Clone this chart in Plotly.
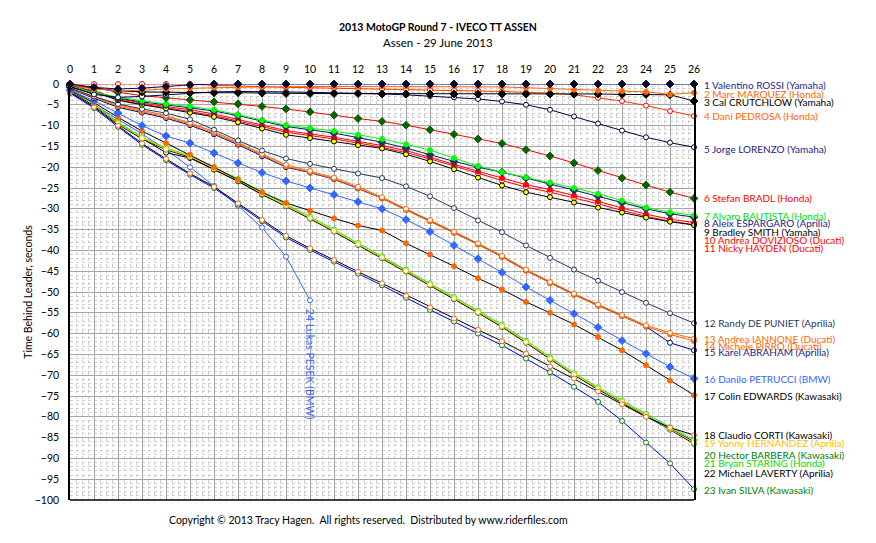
import plotly.graph_objects as go

laps = list(range(0, 27))

riders = [
    "1 Valentino ROSSI (Yamaha)", "2 Marc MARQUEZ (Honda)", "3 Cal CRUTCHLOW (Yamaha)",
    "4 Dani PEDROSA (Honda)", "5 Jorge LORENZO (Yamaha)", "6 Stefan BRADL (Honda)",
    "7 Alvaro BAUTISTA (Honda)", "8 Aleix ESPARGARO (Aprilia)", "9 Bradley SMITH (Yamaha)",
    "10 Andrea DOVIZIOSO (Ducati)", "11 Nicky HAYDEN (Ducati)", "12 Randy DE PUNIET (Aprilia)",
    "13 Andrea IANNONE (Ducati)", "14 Michele PIRRO (Ducati)", "15 Karel ABRAHAM (Aprilia)",
    "16 Danilo PETRUCCI (BMW)", "17 Colin EDWARDS (Kawasaki)", "18 Claudio CORTI (Kawasaki)",
    "19 Yonny HERNANDEZ (Aprilia)", "20 Hector BARBERA (Kawasaki)", "21 Bryan STARING (Honda)",
    "22 Michael LAVERTY (Aprilia)", "23 Ivan SILVA (Kawasaki)", "24 Lukas PESEK (BMW)",
]

rossi = [0, -0.8, -1.2, -1.0, -0.6, -0.2, 0, 0, 0, 0, 0, 0, 0, 0, 0, 0, 0, 0, 0, 0, 0, 0, 0, 0, 0, 0, 0]
marquez = [-0.3, -1.2, -1.6, -1.5, -1.2, -1.0, -0.9, -0.8, -0.7, -0.6, -0.6, -0.6, -0.6, -0.6, -0.6, -0.6, -0.6, -0.6, -0.7, -0.9, -1.1, -1.4, -1.6, -1.7, -1.9, -2.5, -2.1]
crutchlow = [-0.4, -1.0, -1.6, -1.9, -2.0, -2.1, -2.1, -2.1, -2.2, -2.3, -2.3, -2.3, -2.3, -2.4, -2.4, -2.4, -2.4, -2.4, -2.4, -2.4, -2.4, -2.4, -2.4, -2.5, -2.5, -2.6, -4.1]
pedrosa = [0, 0, 0, 0, 0, 0, -0.3, -0.5, -0.7, -0.8, -0.9, -1.0, -1.1, -1.2, -1.3, -1.4, -1.5, -1.6, -1.8, -2.0, -2.2, -2.6, -3.3, -4.1, -5.2, -6.5, -7.7]
lorenzo = [-0.6, -2.5, -3.2, -3.0, -2.6, -2.2, -1.9, -1.8, -1.8, -1.9, -2.0, -2.1, -2.2, -2.4, -2.6, -2.9, -3.2, -3.6, -4.2, -5.0, -6.2, -7.8, -9.5, -11.2, -12.8, -14.1, -15.2]
bradl = [-0.2, -0.8, -2.0, -2.8, -3.3, -3.8, -4.3, -4.8, -5.4, -6.0, -6.7, -7.5, -8.3, -9.0, -9.9, -11.0, -12.1, -13.2, -14.3, -15.8, -17.3, -19.0, -20.8, -22.6, -24.3, -26.0, -27.5]
bautista = [-0.5, -2.0, -3.2, -4.0, -4.8, -5.4, -6.2, -7.4, -8.7, -9.9, -10.6, -11.3, -12.2, -13.2, -14.5, -15.9, -17.8, -19.7, -21.2, -22.4, -23.7, -25.0, -26.4, -28.0, -29.7, -30.8, -31.6]
espargaro = [-0.8, -2.2, -3.4, -4.3, -5.0, -5.7, -6.5, -7.6, -8.9, -10.2, -11.0, -11.8, -12.9, -14.0, -15.4, -17.0, -18.6, -20.0, -21.2, -22.6, -24.0, -25.5, -27.0, -28.5, -30.0, -31.2, -32.0]
smith = [-0.6, -1.9, -3.9, -5.0, -5.9, -6.9, -7.9, -9.2, -10.7, -12.2, -13.0, -13.8, -14.7, -15.5, -16.9, -18.6, -20.5, -22.5, -24.4, -26.0, -27.2, -28.5, -29.7, -30.9, -32.1, -33.1, -33.9]
dovizioso = [-0.5, -1.6, -3.5, -4.6, -5.4, -6.2, -7.2, -8.5, -9.9, -11.2, -12.0, -12.8, -13.8, -14.8, -16.0, -17.6, -19.3, -21.0, -22.6, -24.2, -25.4, -26.8, -28.2, -29.8, -31.3, -32.5, -33.3]
hayden = [-0.6, -1.8, -3.8, -4.9, -5.7, -6.6, -7.6, -8.9, -10.3, -11.6, -12.4, -13.2, -14.2, -15.2, -16.5, -18.0, -19.7, -21.5, -23.2, -24.8, -26.0, -27.4, -28.8, -30.4, -31.8, -33.0, -33.8]
depuniet = [-1.0, -3.0, -4.8, -6.0, -7.0, -8.5, -11.0, -13.6, -16.0, -17.9, -19.2, -20.4, -21.5, -22.6, -24.6, -27.0, -29.8, -32.8, -35.6, -38.8, -41.8, -44.6, -47.3, -50.0, -52.6, -55.1, -57.5]
iannone = [-1.0, -3.0, -5.0, -6.3, -7.6, -9.3, -11.5, -14.0, -16.8, -19.4, -20.9, -22.5, -24.7, -27.2, -30.0, -32.7, -35.5, -38.3, -41.3, -44.6, -47.6, -50.4, -53.0, -55.5, -58.0, -59.8, -61.2]
pirro = [-1.1, -3.2, -5.3, -6.6, -7.9, -9.6, -11.8, -14.3, -17.1, -19.8, -21.2, -22.8, -25.0, -27.5, -30.3, -33.0, -35.8, -38.6, -41.6, -44.9, -47.9, -50.7, -53.3, -55.8, -58.3, -60.2, -61.8]
abraham = [-1.2, -3.4, -5.6, -6.9, -8.2, -9.9, -12.1, -14.6, -17.4, -20.0, -21.3, -22.9, -25.1, -27.5, -30.2, -32.9, -35.7, -38.5, -41.5, -44.8, -47.8, -50.6, -53.2, -55.7, -58.3, -62.2, -64.0]
petrucci = [-1.5, -4.0, -7.0, -10.0, -12.5, -14.2, -16.6, -19.0, -21.3, -23.3, -25.0, -26.6, -28.3, -30.0, -32.6, -35.5, -38.8, -42.0, -45.3, -48.8, -52.0, -55.2, -58.5, -61.7, -64.8, -68.0, -70.8]
edwards = [-1.5, -4.5, -8.0, -11.3, -14.2, -17.0, -20.0, -23.0, -26.0, -28.6, -30.5, -32.3, -34.0, -35.2, -38.3, -41.0, -43.8, -46.7, -49.4, -52.4, -55.0, -57.8, -60.8, -64.0, -67.6, -71.3, -74.8]
corti = [-2.0, -5.5, -10.0, -14.3, -18.0, -21.5, -24.7, -28.7, -32.7, -36.5, -39.5, -42.3, -45.1, -47.9, -50.9, -53.7, -56.4, -59.1, -61.8, -64.8, -67.9, -70.8, -73.9, -77.0, -80.0, -82.6, -84.4]
hernandez = [-1.5, -5.0, -9.5, -13.0, -15.6, -17.4, -20.3, -23.1, -26.3, -29.2, -32.2, -35.3, -38.5, -41.7, -44.9, -48.2, -51.5, -54.8, -58.2, -62.0, -66.0, -69.8, -73.2, -76.4, -79.6, -82.8, -86.2]
barbera = [-1.6, -5.2, -9.7, -13.2, -15.8, -17.6, -20.5, -23.3, -26.5, -29.4, -32.4, -35.5, -38.7, -41.9, -45.1, -48.4, -51.7, -55.0, -58.4, -62.2, -66.2, -70.0, -73.4, -76.6, -79.9, -83.1, -86.5]
staring = [-1.4, -4.8, -9.2, -12.8, -15.4, -17.2, -20.0, -22.8, -26.0, -28.9, -31.9, -35.0, -38.2, -41.4, -44.6, -47.9, -51.2, -54.5, -57.9, -61.7, -65.7, -69.5, -72.9, -76.1, -79.3, -82.5, -85.6]
laverty = [-1.5, -5.0, -9.4, -13.1, -16.5, -17.8, -20.6, -23.4, -26.6, -29.3, -32.3, -35.4, -38.6, -41.8, -45.0, -48.3, -51.6, -54.9, -58.3, -62.1, -66.1, -69.9, -73.3, -76.5, -79.7, -82.9, -86.0]
silva = [-2.2, -5.8, -10.3, -14.6, -18.3, -21.8, -25.0, -29.0, -33.0, -36.9, -39.9, -42.7, -45.6, -48.4, -51.4, -54.3, -57.1, -60.0, -62.8, -66.0, -69.3, -72.8, -76.4, -81.0, -86.2, -91.2, -97.4]
pesek = [-2.0, -5.0, -8.5, -12.0, -15.8, -20.0, -24.5, -29.3, -34.5, -41.5, -52.0]

series_values = [rossi, marquez, crutchlow, pedrosa, lorenzo, bradl, bautista, espargaro, smith,
                 dovizioso, hayden, depuniet, iannone, pirro, abraham, petrucci, edwards, corti,
                 hernandez, barbera, staring, laverty, silva, pesek]

# right-hand label positions (seconds)
label_y = [-0.3, -2.3, -4.3, -7.7, -15.6, -27.5, -31.7, -33.5, -35.6, -37.4, -39.4, -57.5,
           -61.2, -62.9, -64.4, -70.8, -75.0, -84.4, -86.2, -89.1, -91.2, -93.6, -97.5]

# style: (line colour, marker symbol, marker fill, marker outline, label colour)
styles = [
    ("#000080", "diamond", "#0A0A30", "#0A0A30", "#24249A"),
    ("#FF6600", "circle", "#FF6600", "#FF6600", "#FF6600"),
    ("#000000", "diamond", "#000000", "#000000", "#000000"),
    ("#FF3300", "circle", "#FFFFFF", "#FF0000", "#FF6600"),
    ("#000040", "circle", "#FFFFFF", "#000040", "#1C1C80"),
    ("#FF0000", "diamond", "#006400", "#006400", "#FF0000"),
    ("#00FF00", "circle", "#00FF00", "#00FF00", "#00E000"),
    ("#002060", "diamond", "#1F3864", "#1F3864", "#1C1C80"),
    ("#000000", "circle", "#FFFF00", "#000000", "#000000"),
    ("#FF0000", "circle", "#FF0000", "#FF0000", "#FF0000"),
    ("#FF0000", "circle", "#FFFFFF", "#FF0000", "#FF0000"),
    ("#1F3864", "circle", "#FFFFFF", "#1F3864", "#1F3864"),
    ("#FF6600", "circle", "#FFFFFF", "#FF6600", "#FF6600"),
    ("#FF6600", "circle", "#FF6600", "#FF6600", "#FF6600"),
    ("#000080", "circle", "#FFFFFF", "#000080", "#1C1C80"),
    ("#3366FF", "diamond", "#3366FF", "#3366FF", "#3366FF"),
    ("#000000", "circle", "#FF6600", "#FF6600", "#000000"),
    ("#000000", "circle", "#FFFFFF", "#FF6600", "#000000"),
    ("#FFC000", "circle", "#FFFFFF", "#FFC000", "#FFC000"),
    ("#000000", "circle", "#FFFFFF", "#008000", "#008000"),
    ("#00FF00", "circle", "#FFFFFF", "#00FF00", "#00E000"),
    ("#000000", "circle", "#FFFFFF", "#000000", "#000000"),
    ("#0000FF", "circle", "#FFFFFF", "#008000", "#008000"),
    ("#3366FF", "circle", "#FFFFFF", "#3366FF", "#3366FF"),
]

FONT = "Lato"

fig = go.Figure()
for i in reversed(range(len(riders))):
    vals = series_values[i]
    lc, sym, fill, oc, _ = styles[i]
    fig.add_trace(go.Scatter(
        x=laps[:len(vals)], y=vals, mode="lines+markers", name=riders[i],
        line=dict(color=lc, width=1),
        marker=dict(symbol=sym, size=6 if sym == "diamond" else 5, color=fill,
                    line=dict(color=oc, width=1)),
        cliponaxis=False, showlegend=False,
    ))

annotations = []
for i in range(len(label_y)):
    annotations.append(dict(
        x=26, y=label_y[i], xref="x", yref="y", text=riders[i], showarrow=False,
        xanchor="left", yanchor="middle", xshift=8,
        font=dict(family=FONT, size=10, color=styles[i][4]),
    ))
annotations.append(dict(
    x=len(pesek) - 1, y=pesek[-1], xref="x", yref="y", text=riders[23], showarrow=False,
    textangle=90, xanchor="center", yanchor="top", yshift=-6,
    font=dict(family=FONT, size=10.5, color="#3366FF"),
))
annotations.append(dict(
    x=0.5897, y=1.137, xref="paper", yref="paper", showarrow=False,
    text="<b>2013 MotoGP Round 7 - IVECO TT ASSEN</b>",
    font=dict(family=FONT, size=10.5, color="#000000"), xanchor="center", yanchor="middle",
))
annotations.append(dict(
    x=0.5897, y=1.0986, xref="paper", yref="paper", showarrow=False,
    text="Assen - 29 June 2013",
    font=dict(family=FONT, size=11.5, color="#000000"), xanchor="center", yanchor="middle",
))
annotations.append(dict(
    x=0.479, y=-0.048, xref="paper", yref="paper", showarrow=False,
    text="Copyright © 2013 Tracy Hagen.  All rights reserved.  Distributed by www.riderfiles.com",
    font=dict(family=FONT, size=10.5, color="#000000"), xanchor="center", yanchor="middle",
))

fig.update_layout(
    width=876, height=543,
    margin=dict(l=70, r=182, t=84, b=43),
    paper_bgcolor="#FFFFFF", plot_bgcolor="#FFFFFF",
    annotations=annotations,
    font=dict(family=FONT, size=10, color="#000000"),
    shapes=[
        dict(type="line", xref="paper", yref="paper", x0=0, x1=1, y0=0, y1=0,
             line=dict(color="#000000", width=1.5)),
    ],
)
fig.update_xaxes(
    range=[0, 26], side="top", dtick=1, tick0=0, showgrid=True,
    gridcolor="#A6A6A6", gridwidth=1, zeroline=False, showline=False,
    ticks="", ticklabelstandoff=8, tickfont=dict(family=FONT, size=10.5),
    minor=dict(dtick=0.25, showgrid=True, gridcolor="#CFCFCF", griddash="dot", gridwidth=1),
)
fig.update_yaxes(
    range=[-100, 0], dtick=5, tick0=0, showgrid=True,
    gridcolor="#A6A6A6", gridwidth=1, zeroline=False,
    showline=True, linecolor="#000000", linewidth=1.5, mirror=True,
    ticks="", ticklabelstandoff=7, tickfont=dict(family=FONT, size=10.5),
    title=dict(text="Time Behind Leader, seconds", font=dict(family=FONT, size=10.5), standoff=0),
    minor=dict(dtick=1, showgrid=True, gridcolor="#CFCFCF", griddash="dot", gridwidth=1),
)

fig.write_html("out.html")
